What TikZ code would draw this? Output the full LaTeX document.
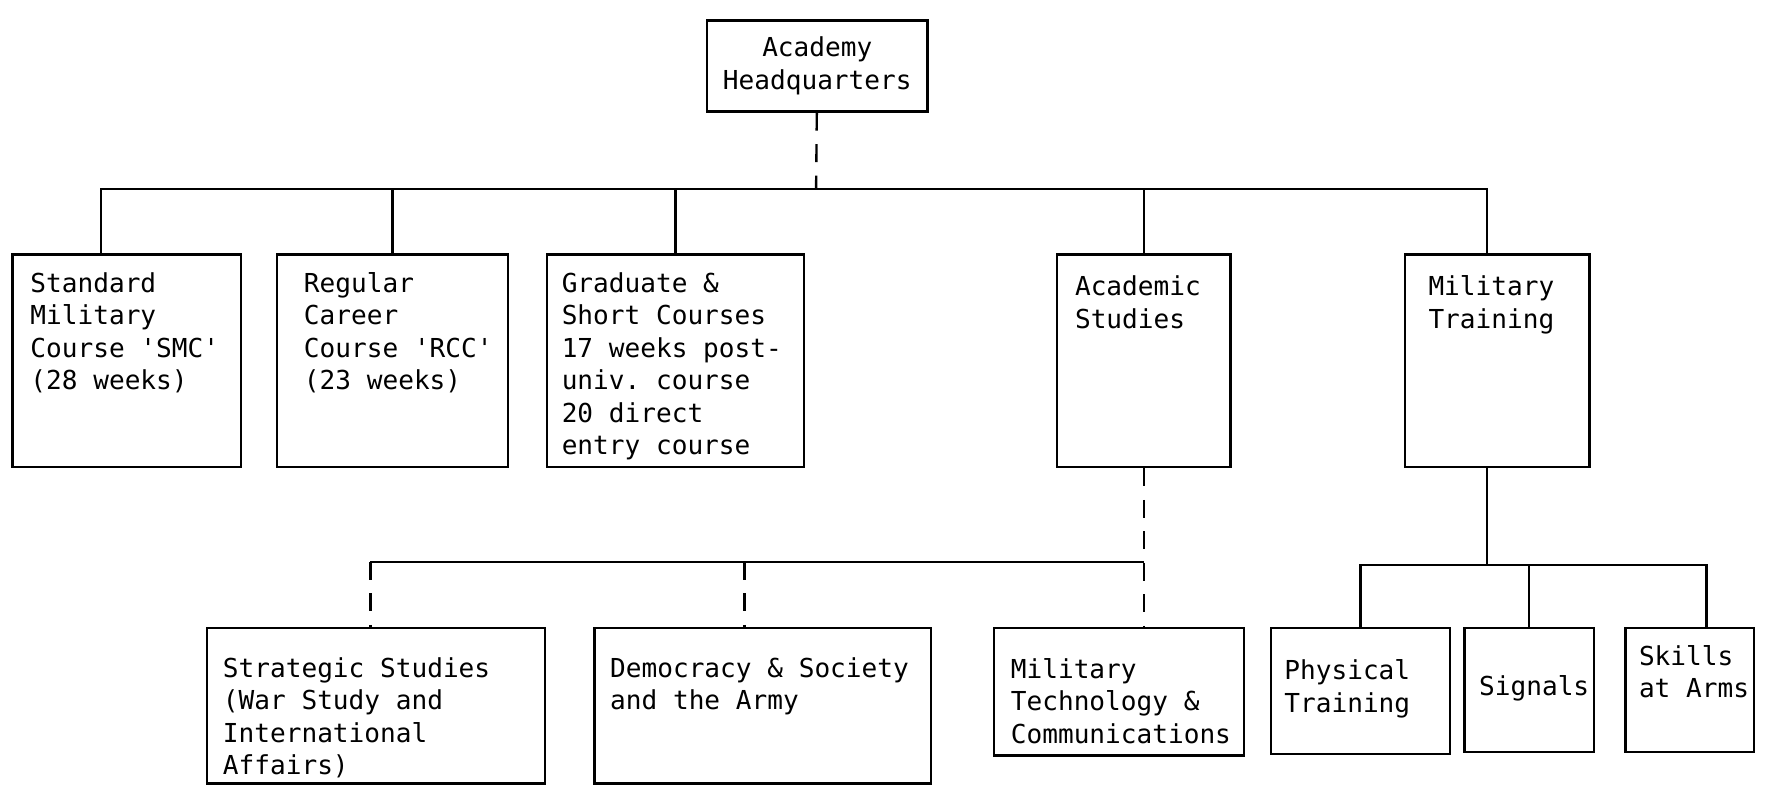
\documentclass[tikz,border=0pt]{standalone}
\usepackage{fontspec}
\setmonofont{DejaVu Sans Mono}
\usepackage{tikz}
\usetikzlibrary{calc, positioning}
\newlength{\pix}
\setlength{\pix}{0.2mm}
\newcommand{\orgtext}[5]{\parbox[t][#2\pix][t]{#1\pix}{\leftskip=#4\pix\rightskip=0pt plus 1fil\relax\vspace*{#3\pix}#5}}

\begin{document}
\begin{tikzpicture}[x=0.2mm, y=-0.2mm, line width=1.2pt, every node/.style={font=\ttfamily\fontsize{13.2}{16.4}\selectfont}]
	\tikzstyle{unit}=[draw=black, anchor=north west, inner sep=0pt]
	\tikzstyle{dashlink}=[dash pattern=on 3.2mm off 2.4mm]
	\useasboundingbox[fill=white] (0,0) rectangle (1568,697);
	
	\node (hq) at (627,17) [unit, minimum width=39.2mm, minimum height=16.2mm, align=center]{Academy\\Headquarters};
	
	\node (smc) at (10,225) [unit]{\orgtext{203}{189}{16}{16}{Standard\\Military\\Course 'SMC'\\(28 weeks)}};
	\node (rcc) at (245,225) [unit]{\orgtext{205}{189}{16}{24}{Regular\\Career\\Course 'RCC'\\(23 weeks)}};
	\node (grad) at (485,225) [unit]{\orgtext{228}{189}{16}{13}{Graduate \&\\Short Courses\\17 weeks post-\\univ. course\\20 direct\\entry course}};
	\node (acad) at (938,225) [unit]{\orgtext{154}{189}{19}{16}{Academic\\Studies}};
	\node (mt) at (1247,225) [unit]{\orgtext{164}{189}{19}{21}{Military\\Training}};
	
	\node (strat) at (183,557) [unit]{\orgtext{300}{138}{26}{14}{Strategic Studies\\(War Study and\\International\\Affairs)}};
	\node (dem) at (527,557) [unit]{\orgtext{299}{138}{26}{14}{Democracy \& Society\\and the Army}};
	\node (mtc) at (882,557) [unit]{\orgtext{222}{113}{27}{15}{Military\\Technology \&\\Communications}};
	\node (phys) at (1128,557) [unit]{\orgtext{159}{112}{28}{12}{Physical\\Training}};
	\node (sig) at (1300,557) [unit]{\orgtext{115}{110}{42}{13}{Signals}};
	\node (sk) at (1443,557) [unit]{\orgtext{114}{110}{15}{12}{Skills\\at Arms}};
	
	% headquarters
	\coordinate (j0) at (725,168);
	\coordinate (smcdrop) at ($(smc.north)+(-23,0)$);
	\coordinate (mtdrop) at ($(mt.north)+(-9,0)$);
	\draw[dashlink] (hq) -- (j0);
	\foreach \dst in {smcdrop, rcc.north, grad.north, acad.north, mtdrop}
		\draw (j0) -| (\dst);
	
	% academic studies
	\path (acad.south) ++(0,83) coordinate (j1);
	\coordinate (stratdrop) at ($(strat.north)+(-5,0)$);
	\coordinate (demdrop) at ($(dem.north)+(-16,0)$);
	\draw[dashlink] (acad) -- (acad.south |- mtc.north);
	\draw (j1) -- (j1 -| stratdrop);
	\draw[dashlink] (j1 -| stratdrop) -- (stratdrop);
	\draw[dashlink] (j1 -| demdrop) -- (demdrop);
	
	% military training
	\path (mtdrop |- mt.south) ++(0,86) coordinate (j2);
	\coordinate (skdrop) at ($(sk.north)+(15,0)$);
	\draw (mtdrop |- mt.south) -- (j2);
	\foreach \dst in {phys.north, sig.north, skdrop}
		\draw (j2) -| (\dst);
\end{tikzpicture}
\end{document}
